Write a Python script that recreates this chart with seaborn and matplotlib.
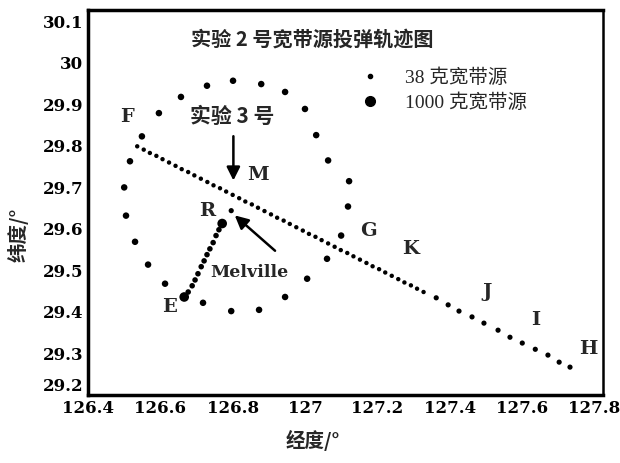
import numpy as np
import pandas as pd
import matplotlib
matplotlib.use('Agg')
import matplotlib.pyplot as plt
from matplotlib.lines import Line2D
import seaborn as sns

# 圆周投弹点 (38 g)
ring_lon = [126.500, 126.516, 126.549, 126.596, 126.657, 126.729, 126.801, 126.879, 126.945,
            127.000, 127.031, 127.064, 127.122, 127.119, 127.100, 127.061, 127.006, 126.945,
            126.873, 126.796, 126.718, 126.613, 126.566, 126.530, 126.505]
ring_lat = [29.700, 29.763, 29.823, 29.879, 29.918, 29.945, 29.957, 29.949, 29.930,
            29.889, 29.826, 29.765, 29.715, 29.654, 29.584, 29.528, 29.480, 29.436,
            29.405, 29.402, 29.422, 29.468, 29.514, 29.569, 29.632]

# F -> H 航迹 (密集段)
track_lon = [126.536, 126.554, 126.571, 126.589, 126.606, 126.624, 126.642, 126.659, 126.677,
             126.694, 126.712, 126.730, 126.747, 126.765, 126.782, 126.800, 126.818, 126.835,
             126.853, 126.870, 126.888, 126.906, 126.923, 126.941, 126.958, 126.976, 126.994,
             127.011, 127.029, 127.046, 127.064, 127.082, 127.099, 127.117, 127.134, 127.152,
             127.170, 127.187, 127.205, 127.222, 127.240, 127.258, 127.275, 127.293, 127.310,
             127.328]
track_lat = [29.799, 29.791, 29.783, 29.776, 29.768, 29.760, 29.752, 29.744, 29.737,
             29.729, 29.721, 29.713, 29.705, 29.698, 29.690, 29.682, 29.674, 29.666,
             29.659, 29.651, 29.643, 29.635, 29.627, 29.620, 29.612, 29.604, 29.596,
             29.588, 29.581, 29.573, 29.565, 29.557, 29.549, 29.542, 29.534, 29.526,
             29.518, 29.510, 29.503, 29.495, 29.487, 29.479, 29.471, 29.464, 29.456,
             29.448]
# 稀疏段
sparse_lon = [127.363, 127.396, 127.426, 127.462, 127.495, 127.534, 127.567, 127.601,
              127.637, 127.672, 127.703, 127.733]
sparse_lat = [29.434, 29.417, 29.402, 29.388, 29.373, 29.356, 29.339, 29.325,
              29.310, 29.296, 29.279, 29.267]

# E -> R 航迹
er_lon = [126.668, 126.677, 126.688, 126.696, 126.704, 126.713, 126.721, 126.729,
          126.737, 126.746, 126.754, 126.762, 126.771]
er_lat = [29.439, 29.448, 29.463, 29.477, 29.492, 29.509, 29.523, 29.538,
          29.552, 29.567, 29.584, 29.598, 29.610]

# 1000 g 点
big_lon = [126.666, 126.771]
big_lat = [29.436, 29.613]

# Melville
mel_lon = [126.796]
mel_lat = [29.644]

xticks = [126.4, 126.6, 126.8, 127.0, 127.2, 127.4, 127.6, 127.8]
xlabels = ['126.4', '126.6', '126.8', '127', '127.2', '127.4', '127.6', '127.8']
yticks = [29.2, 29.3, 29.4, 29.5, 29.6, 29.7, 29.8, 29.9, 30.0, 30.1]
ylabels = ['29.2', '29.3', '29.4', '29.5', '29.6', '29.7', '29.8', '29.9', '30', '30.1']

sns.set_style('white')
plt.rcParams['font.family'] = ['Noto Sans CJK SC', 'DejaVu Sans']

fig = plt.figure(figsize=(6.2, 4.63), dpi=100)
ax = fig.add_axes([0.142, 0.147, 0.831, 0.831])

kw = dict(color='black', edgecolor='none', legend=False, ax=ax)
sns.scatterplot(x=ring_lon, y=ring_lat, s=22, **kw)
sns.scatterplot(x=track_lon, y=track_lat, s=10, **kw)
sns.scatterplot(x=sparse_lon, y=sparse_lat, s=14, **kw)
sns.scatterplot(x=er_lon, y=er_lat, s=16, **kw)
sns.scatterplot(x=big_lon, y=big_lat, s=48, **kw)
sns.scatterplot(x=mel_lon, y=mel_lat, s=14, **kw)

ax.set_xlim(126.4, 127.825)
ax.set_ylim(29.2, 30.127)
ax.set_xticks(xticks)
ax.set_xticklabels(xlabels)
ax.set_yticks(yticks)
ax.set_yticklabels(ylabels)
ax.tick_params(direction='in', length=4, width=1.5, colors='black', labelsize=12)
for lab in ax.get_xticklabels() + ax.get_yticklabels():
    lab.set_family('DejaVu Serif')
    lab.set_weight('bold')
ax.get_yticklabels()[0].set_va('bottom')
for sp in ax.spines.values():
    sp.set_color('black')
    sp.set_linewidth(2.5)
ax.spines['right'].set_linewidth(1.8)

ax.set_xlabel('经度/°', fontsize=14, fontweight='bold')
ax.set_ylabel('纬度/°', fontsize=14, fontweight='bold')
ax.xaxis.set_label_coords(0.436, -0.09)
ax.yaxis.set_label_coords(-0.115, 0.415)

ax.text(127.02, 30.058, '实验 2 号宽带源投弹轨迹图', fontsize=14.5, fontweight='bold',
        ha='center', va='center')

handles = [Line2D([], [], marker='o', ls='none', color='black', markersize=3),
           Line2D([], [], marker='o', ls='none', color='black', markersize=7)]
ax.legend(handles, ['38 克宽带源', '1000 克宽带源'], loc='upper left',
          bbox_to_anchor=(0.475, 0.895), frameon=False,
          handletextpad=0.8, labelspacing=0.35,
          prop={'size': 14, 'family': ['Liberation Serif', 'Noto Sans CJK SC']})

letter = dict(fontsize=14, fontweight='bold', family='DejaVu Serif', ha='center', va='center')
ax.text(126.508, 29.869, 'F', **letter)
ax.text(126.729, 29.642, 'R', **letter)
ax.text(127.175, 29.596, 'G', **letter)
ax.text(127.291, 29.552, 'K', **letter)
ax.text(127.504, 29.448, 'J', **letter)
ax.text(127.637, 29.38, 'I', **letter)
ax.text(127.785, 29.31, 'H', **letter)
ax.text(126.624, 29.412, 'E', **letter)
ax.text(126.87, 29.731, 'M', **letter)
ax.text(126.847, 29.494, 'Melville', fontsize=12.5, fontweight='bold', family='DejaVu Serif',
        ha='center', va='center')
ax.text(126.798, 29.872, '实验 3 号', fontsize=15, fontweight='bold', ha='center', va='center')

ax.annotate('', xy=(126.802, 29.71), xytext=(126.802, 29.83),
            arrowprops=dict(arrowstyle='-|>', color='black', lw=1.8, mutation_scale=20))
ax.annotate('', xy=(126.8, 29.637), xytext=(126.923, 29.543),
            arrowprops=dict(arrowstyle='-|>', color='black', lw=1.8, mutation_scale=20))

fig.savefig('out.png', dpi=100)
